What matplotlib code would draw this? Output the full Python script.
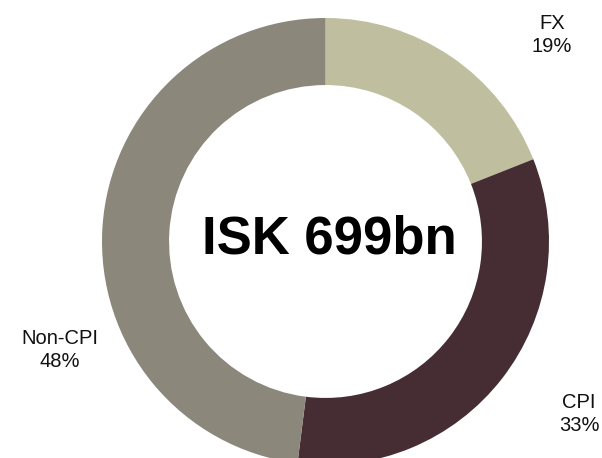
import matplotlib.pyplot as plt

plt.rcParams['font.family'] = ['Liberation Sans', 'DejaVu Sans']

# Breakdown of the ISK 699bn total
labels = ['FX', 'CPI', 'Non-CPI']
shares = [19, 33, 48]
colors = ['#BFBFA0', '#452D33', '#8C877B']
total_text = 'ISK 699bn'

W, H = 602, 458
fig = plt.figure(figsize=(W / 100, H / 100), dpi=100)
ax = fig.add_axes([0, 0, 1, 1])

cx, cy, r = 325.5, H - 241.5, 223.5
ax.pie(shares, colors=colors, startangle=90, counterclock=False,
       radius=r, center=(cx, cy), frame=True,
       wedgeprops=dict(width=0.30 * r, edgecolor='none'))
ax.set_xlim(0, W)
ax.set_ylim(0, H)
ax.set_aspect('equal')
ax.axis('off')

ax.text(cx + 4, H - 239, total_text, ha='center', va='center',
        fontsize=38, fontweight='bold', color='black')

# outside labels
label_pos = [(552, H - 35), (579, H - 414), (60, H - 350)]
for lab, val, (x, y) in zip(labels, shares, label_pos):
    ax.text(x, y, f'{lab}\n{val}%', ha='center', va='center',
            fontsize=14.5, linespacing=1.3, color='#111111')

fig.savefig('out.png', dpi=100)
